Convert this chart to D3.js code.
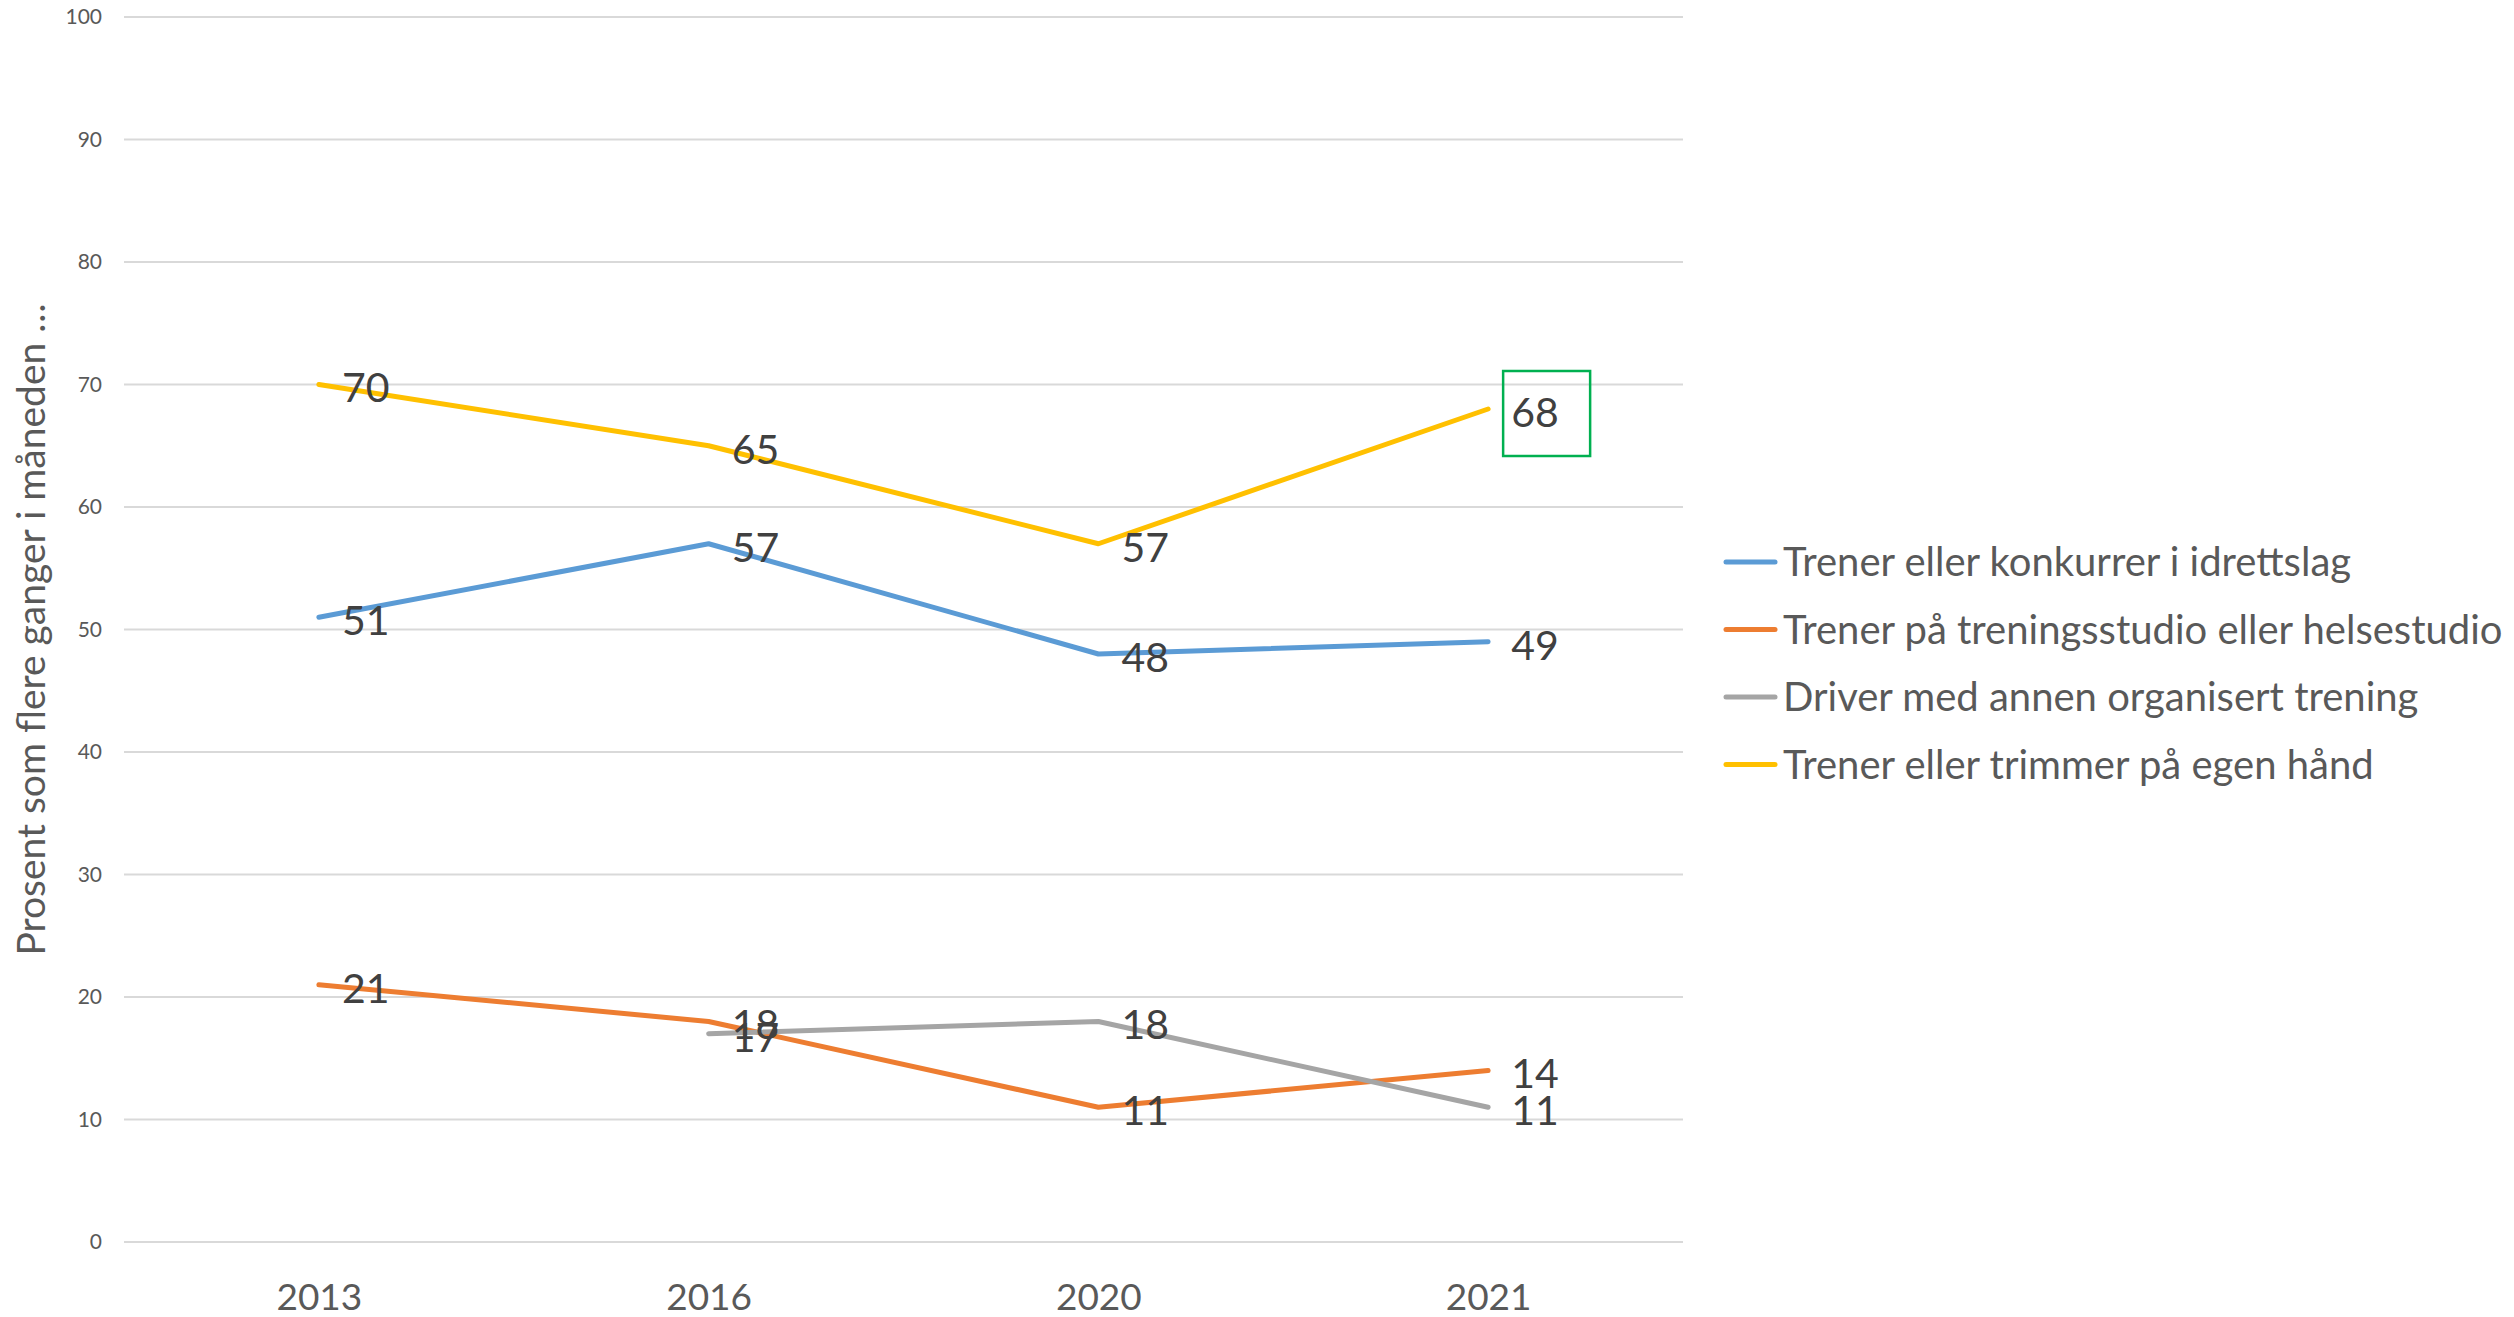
<!DOCTYPE html>
<html>
<head>
<meta charset="utf-8">
<script src="https://cdn.jsdelivr.net/npm/d3@7"></script>
<style>
  html, body { margin: 0; padding: 0; background: #ffffff; }
  svg { display: block; font-family: Lato, "Open Sans", sans-serif; }
</style>
</head>
<body>
<svg id="chart" width="2514" height="1317"></svg>
<script>
// Survey years
const years = ["2013", "2016", "2020", "2021"];

// Share (percent) doing each activity several times a month
const idrettslag = [51, 57, 48, 49];
const treningsstudio = [21, 18, 11, 14];
const annenOrganisert = [null, 17, 18, 11];
const egenHand = [70, 65, 57, 68];

const seriesNames = [
  "Trener eller konkurrer i idrettslag",
  "Trener på treningsstudio eller helsestudio",
  "Driver med annen organisert trening",
  "Trener eller trimmer på egen hånd"
];
const seriesColors = ["#5B9BD5", "#ED7D31", "#A5A5A5", "#FFC000"];
const seriesValues = [idrettslag, treningsstudio, annenOrganisert, egenHand];

const yTicks = [0, 10, 20, 30, 40, 50, 60, 70, 80, 90, 100];
const yTitle = "Prosent som flere ganger i måneden …";

const series = seriesNames.map((name, i) => ({
  name, color: seriesColors[i],
  points: years.map((yr, j) => ({ year: yr, value: seriesValues[i][j] }))
}));

const svg = d3.select("#chart");
const plot = { left: 124, right: 1683, top: 17, bottom: 1242 };

const x = d3.scalePoint().domain(years).range([plot.left, plot.right]).padding(0.5);
const y = d3.scaleLinear().domain([0, 100]).range([plot.bottom, plot.top]);

// Horizontal gridlines
svg.append("g").selectAll("line").data(yTicks).join("line")
  .attr("x1", plot.left).attr("x2", plot.right)
  .attr("y1", d => y(d)).attr("y2", d => y(d))
  .attr("stroke", "#D9D9D9").attr("stroke-width", 2);

// Y axis tick labels
const yAxis = svg.append("g")
  .attr("transform", `translate(${plot.left - 22},0)`)
  .call(d3.axisLeft(y).tickValues(yTicks).tickSize(0).tickPadding(0));
yAxis.select(".domain").remove();
yAxis.selectAll("text")
  .attr("font-family", "Lato, sans-serif")
  .attr("font-size", 21).attr("fill", "#595959");

// X axis category labels
const xAxis = svg.append("g")
  .attr("transform", `translate(0,${plot.bottom + 42})`)
  .call(d3.axisBottom(x).tickSize(0).tickPadding(0));
xAxis.select(".domain").remove();
xAxis.selectAll("text")
  .attr("font-family", "Lato, sans-serif")
  .attr("font-size", 37).attr("fill", "#595959")
  .attr("dy", "0.71em");

// Y axis title
svg.append("text")
  .attr("transform", `translate(45,${(plot.top + plot.bottom) / 2}) rotate(-90)`)
  .attr("text-anchor", "middle")
  .attr("font-size", 39).attr("fill", "#595959")
  .text(yTitle);

// Series lines
const line = d3.line()
  .defined(d => d.value != null)
  .x(d => x(d.year)).y(d => y(d.value));

svg.append("g").selectAll("path").data(series).join("path")
  .attr("d", d => line(d.points))
  .attr("fill", "none")
  .attr("stroke", d => d.color)
  .attr("stroke-width", 5)
  .attr("stroke-linecap", "round")
  .attr("stroke-linejoin", "round");

// Data value labels to the right of each point
const labels = series.flatMap(s => s.points.filter(p => p.value != null));
svg.append("g").selectAll("text").data(labels).join("text")
  .attr("x", d => x(d.year) + 23)
  .attr("y", d => y(d.value) + 3)
  .attr("dy", "0.36em")
  .attr("font-size", 41).attr("fill", "#404040")
  .text(d => d.value);

// Highlight frame around the latest self-organised value
const last = years[years.length - 1];
const hv = egenHand[egenHand.length - 1];
svg.append("rect")
  .attr("x", x(last) + 15).attr("y", y(hv) - 38)
  .attr("width", 87).attr("height", 85)
  .attr("fill", "none").attr("stroke", "#00B050").attr("stroke-width", 2.5);

// Legend
const legend = svg.append("g").attr("transform", "translate(1724,562)");
const items = legend.selectAll("g").data(series).join("g")
  .attr("transform", (d, i) => `translate(0,${i * 67.5})`);
items.append("line")
  .attr("x1", 2).attr("x2", 51).attr("y1", 0).attr("y2", 0)
  .attr("stroke", d => d.color).attr("stroke-width", 5)
  .attr("stroke-linecap", "round");
items.append("text")
  .attr("x", 59).attr("dy", "0.36em")
  .attr("font-size", 40).attr("fill", "#595959")
  .text(d => d.name);
</script>
</body>
</html>
